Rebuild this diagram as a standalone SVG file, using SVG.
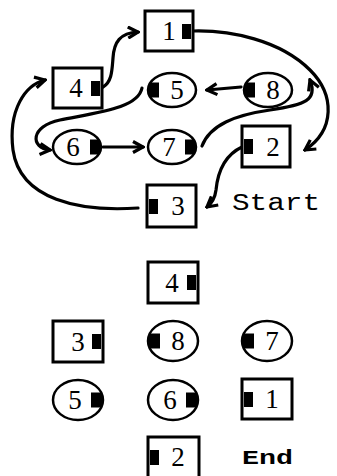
<svg xmlns="http://www.w3.org/2000/svg" width="337" height="476" viewBox="0 0 337 476">
<defs>
<style>
.box{fill:#fff;stroke:#000;stroke-width:3}
.cir{fill:#fff;stroke:#000;stroke-width:2.5}
.tab{fill:#000}
.num{font-family:"Liberation Serif",serif;font-size:27px;text-anchor:middle;fill:#000}
.lbl{font-family:"Liberation Mono",monospace;fill:#000}
.con{fill:none;stroke:#000;stroke-width:3.2;stroke-linecap:round;marker-end:url(#ah)}
</style>
<marker id="ah" viewBox="0 0 14 14" refX="12" refY="7" markerWidth="14" markerHeight="14" markerUnits="userSpaceOnUse" orient="auto">
<path d="M2,1.5 L12,7 L2,12.5" fill="none" stroke="#000" stroke-width="3.2" stroke-linejoin="miter"/>
</marker>
</defs>
<rect width="337" height="476" fill="#fff"/>

<g id="connectors">
<path class="con" d="M103,87 C112,82 112,70 113,58 C114,42 120,33 138,32"/>
<path class="con" d="M193,31 C230,30 280,40 310,70 C335,95 335,130 305,150"/>
<path class="con" d="M241,87 L207,90"/>
<path class="con" d="M142,88 C138,108 100,112 60,120 C30,126 30,148 50,150"/>
<path class="con" d="M103,147 L143,147"/>
<path class="con" d="M202,146 C210,125 235,115 270,110 C305,105 318,100 310,80"/>
<path class="con" d="M242,147 C225,155 218,170 216,190 C215,198 212,203 207,207"/>
<path class="con" d="M138,208 C80,212 20,200 13,150 C8,110 25,85 45,80"/>
</g>

<g id="n1"><rect class="box" x="145" y="11" width="48" height="40"/><rect class="tab" x="182" y="24" width="9" height="15"/><text class="num" x="169" y="40">1</text></g>
<g id="n4"><rect class="box" x="53" y="68" width="49" height="40"/><rect class="tab" x="91" y="81" width="9" height="15"/><text class="num" x="76" y="97">4</text></g>
<g id="n5"><ellipse class="cir" cx="172" cy="90" rx="24" ry="17"/><path class="tab" d="M159,82.5 H150.5 A24,17 0 0 0 150.5,97.5 H159 Z"/><text class="num" x="177" y="99">5</text></g>
<g id="n8"><ellipse class="cir" cx="268" cy="90" rx="24" ry="17"/><path class="tab" d="M255,82.5 H246.5 A24,17 0 0 0 246.5,97.5 H255 Z"/><text class="num" x="273" y="99">8</text></g>
<g id="n6"><ellipse class="cir" cx="77" cy="147" rx="24" ry="17"/><path class="tab" d="M90,139.5 H98.5 A24,17 0 0 1 98.5,154.5 H90 Z"/><text class="num" x="73" y="156">6</text></g>
<g id="n7"><ellipse class="cir" cx="172" cy="147" rx="24" ry="17"/><path class="tab" d="M185,139.5 H193.5 A24,17 0 0 1 193.5,154.5 H185 Z"/><text class="num" x="169" y="156">7</text></g>
<g id="n2"><rect class="box" x="242" y="126" width="48" height="41"/><rect class="tab" x="244" y="139" width="9" height="15"/><text class="num" x="273" y="156">2</text></g>
<g id="n3"><rect class="box" x="147" y="185" width="49" height="42"/><rect class="tab" x="149" y="199" width="9" height="15"/><text class="num" x="178" y="215">3</text></g>
<text class="lbl" x="232" y="210" font-size="23" textLength="88" lengthAdjust="spacingAndGlyphs">Start</text>

<g id="l4"><rect class="box" x="148" y="262" width="50" height="41"/><rect class="tab" x="187" y="275" width="9" height="15"/><text class="num" x="172" y="292">4</text></g>
<g id="l3"><rect class="box" x="53" y="321" width="50" height="41"/><rect class="tab" x="92" y="334" width="9" height="15"/><text class="num" x="78" y="351">3</text></g>
<g id="l8"><ellipse class="cir" cx="173" cy="341" rx="25" ry="20"/><path class="tab" d="M160,333.5 H150.2 A25,20 0 0 0 150.2,348.5 H160 Z"/><text class="num" x="178" y="350">8</text></g>
<g id="l7"><ellipse class="cir" cx="267" cy="341" rx="25" ry="20"/><path class="tab" d="M254,333.5 H244.2 A25,20 0 0 0 244.2,348.5 H254 Z"/><text class="num" x="272" y="350">7</text></g>
<g id="l5"><ellipse class="cir" cx="78" cy="400" rx="25" ry="20"/><path class="tab" d="M91,392.5 H100.8 A25,20 0 0 1 100.8,407.5 H91 Z"/><text class="num" x="75" y="409">5</text></g>
<g id="l6"><ellipse class="cir" cx="173" cy="400" rx="25" ry="20"/><path class="tab" d="M186,392.5 H195.8 A25,20 0 0 1 195.8,407.5 H186 Z"/><text class="num" x="170" y="409">6</text></g>
<g id="l1"><rect class="box" x="242" y="379" width="50" height="40"/><rect class="tab" x="244" y="392" width="9" height="15"/><text class="num" x="272" y="408">1</text></g>
<g id="l2"><rect class="box" x="148" y="437" width="51" height="42"/><rect class="tab" x="150" y="450" width="9" height="15"/><text class="num" x="178" y="466">2</text></g>
<text class="lbl" x="242" y="464" font-size="21" font-weight="bold" textLength="51" lengthAdjust="spacingAndGlyphs">End</text>
</svg>
